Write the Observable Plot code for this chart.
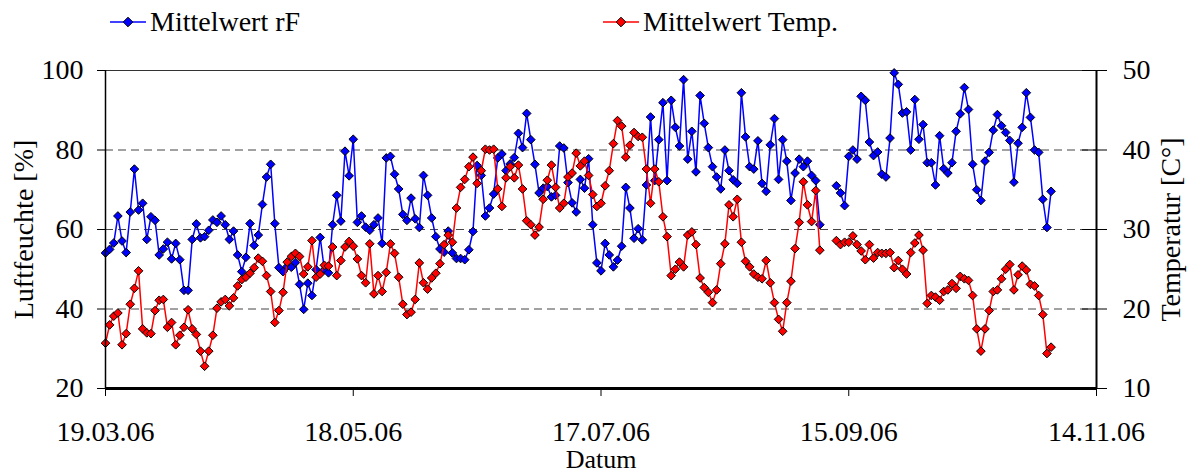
<!DOCTYPE html>
<html>
<head>
<meta charset="utf-8">
<script src="https://cdn.jsdelivr.net/npm/d3@7"></script>
<script src="https://cdn.jsdelivr.net/npm/@observablehq/plot@0.6"></script>
<style>
  body { margin: 0; background: #fff; font-family: "Liberation Serif", "Times New Roman", "DejaVu Serif", serif; }
  #legend { position: relative; width: 1193px; height: 44px; font-size: 28px; color: #000; }
  #legend .item { position: absolute; top: 0; height: 44px; display: flex; align-items: center; }
  #legend .item svg { margin-right: 2px; }
</style>
</head>
<body>
<div id="legend"></div>
<div id="chart"></div>
<script>
// Daily means from 19.03.06 onwards; null = no measurement
const startDate = "19.03.06";
const tickLabels = ["19.03.06", "18.05.06", "17.07.06", "15.09.06", "14.11.06"];
const humidityTicks = [20, 40, 60, 80, 100];

// Mittelwert rF [%]
const humidity = [
  54.1, 55.0, 56.6, 63.4, 57.1, 54.2, 64.4, 75.2, 64.9, 66.6, 57.5, 63.2, 62.3, 53.6, 55.1, 56.8, 52.6, 56.5, 52.4, 44.7,
  44.7, 57.5, 61.4, 57.9, 58.2, 59.8, 62.4, 61.8, 63.4, 61.2, 57.5, 59.6, 53.6, 49.4, 53.0, 61.5, 56.0, 58.6, 66.3, 73.2,
  76.4, 61.5, 50.4, 49.4, 50.7, 50.5, 51.7, 46.2, 39.9, 46.5, 43.4, 49.9, 58.0, 49.9, 49.1, 61.2, 68.6, 62.1, 79.7, 73.5,
  82.7, 61.8, 63.4, 60.6, 59.8, 61.2, 62.9, 56.5, 78.0, 78.4, 73.9, 70.2, 63.8, 62.3, 67.9, 62.7, 60.5, 73.6,
  68.6, 62.9, 58.2, 55.1, 54.3, 59.6, 54.1, 52.7, 52.7, 52.4, 54.9, 59.5, 76.1, 73.6, 63.4, 65.4, 68.9, 78.0, 79.0, 74.8,
  76.5, 78.1, 84.2, 80.6, 89.2, 82.6, 76.4, 69.2, 70.4, 70.8, 68.2, 68.6, 81.0, 80.5, 71.8, 66.7, 64.4, 72.6, 70.4,
  77.8, 61.2, 51.6, 49.6, 56.5, 53.6, 50.6, 52.3, 55.8, 70.6, 65.4, 57.8, 60.2, 57.4, 71.2, 88.3, 72.3, 82.6, 91.9, 72.3,
  92.5, 85.7, 81.0, 97.7, 77.7, 84.7, 74.5, 93.7, 86.7, 80.6, 75.8, 73.2, 70.2, 80.0, 74.8, 72.5, 71.6, 94.4, 83.3,
  75.8, 75.2, 82.3, 71.6, 69.6, 81.3, 87.9, 72.6, 82.6, 77.2, 67.3, 74.2, 77.7, 75.8, 77.2, 73.6, 72.3, 61.2,
  null, null, null,
  71.0, 69.2, 66.0, 78.4, 80.0, 77.7, 93.5, 92.5, 82.0, 78.6, 79.5, 73.9, 73.2, 83.0, 99.4, 96.5, 89.3, 89.6,
  80.0, 92.7, 82.7, 86.4, 76.8, 76.8, 71.2, 83.6, 75.3, 74.2, 76.8, 84.7, 89.1, 95.7, 90.2, 76.4, 70.0, 67.3, 77.2, 79.4,
  85.0, 88.9, 86.1, 84.4, 82.4, 71.9, 81.7, 85.7, 94.4, 88.2, 80.0, 79.4, 67.6, 60.5, 69.6
];

// Mittelwert Temp. [°C]
const temperature = [
  15.7, 18.0, 19.1, 19.5, 15.5, 16.9, 20.6, 22.6, 24.8, 17.5, 17.0, 16.9, 19.8, 21.1, 21.2, 17.7, 18.3, 15.5, 16.7, 17.7,
  19.9, 17.5, 16.8, 14.7, 12.8, 14.7, 16.7, 20.1, 20.9, 21.2, 20.4, 21.4, 22.9, 23.7, 24.0, 24.5, 25.2, 26.4, 26.0, 24.2,
  22.2, 18.3, 19.8, 22.1, 25.9, 26.6, 27.0, 26.6, 24.4, 25.3, 28.6, 24.0, 24.4, 25.5, 25.4, 27.8, 24.2, 26.1, 27.8, 28.5,
  27.9, 26.3, 24.2, 23.3, 28.2, 21.9, 24.2, 22.2, 24.6, 28.2, 27.0, 24.0, 20.6, 19.3, 19.6, 21.2, 25.8, 23.3,
  22.5, 23.9, 24.5, 25.7, 28.1, 29.3, 28.4, 32.7, 35.3, 36.3, 37.9, 39.1, 35.8, 37.4, 40.1, 40.0, 40.1, 35.1, 32.9, 36.5,
  37.9, 36.5, 38.1, 35.1, 31.1, 30.6, 29.3, 30.3, 33.8, 36.2, 38.1, 35.3, 32.7, 33.3, 36.6, 37.1, 39.6, 38.0, 38.6,
  36.8, 34.4, 32.9, 33.3, 35.5, 37.4, 40.8, 43.7, 43.0, 39.1, 40.6, 42.2, 41.7, 41.6, 37.6, 33.3, 37.6, 36.0, 31.6, 29.1,
  24.2, 25.0, 25.9, 25.3, 29.3, 29.7, 28.1, 23.9, 22.7, 22.1, 20.8, 22.4, 25.7, 28.2, 33.1, 31.6, 33.8, 28.4, 26.0,
  25.3, 24.4, 24.0, 23.8, 26.1, 23.3, 20.8, 18.7, 17.2, 20.8, 23.5, 27.6, 30.9, 36.0, 33.1, 31.0, 34.9, 27.4,
  null, null, null,
  28.6, 28.1, 28.4, 28.4, 29.2, 28.1, 27.3, 26.2, 28.1, 26.4, 27.1, 27.0, 27.0, 27.1, 25.2, 26.1, 25.0, 24.4,
  27.1, 28.3, 29.3, 27.4, 20.7, 21.7, 21.5, 21.1, 22.2, 22.4, 23.2, 22.6, 24.1, 23.8, 23.6, 21.7, 17.5, 14.7, 17.5, 19.8,
  22.2, 22.4, 23.8, 25.0, 25.6, 22.4, 24.3, 25.4, 24.9, 23.1, 22.9, 21.7, 19.3, 14.4, 15.2
];

const blue = "#0000ff";
const red = "#ff0000";
const serif = "'Liberation Serif', 'Times New Roman', 'DejaVu Serif', serif";

const parseDate = d3.utcParse("%d.%m.%y");
const formatDate = d3.utcFormat("%d.%m.%y");
const start = parseDate(startDate);
const tickDates = tickLabels.map(parseDate);
const end = tickDates[tickDates.length - 1];

// Temperature shares the humidity scale: 10..50 °C  <->  20..100 %
const tempToRF = (t) => (t == null ? NaN : 20 + (t - 10) * 2);
const rfToTemp = (v) => (v - 20) / 2 + 10;

const rows = humidity.map((rF, i) => ({
  date: d3.utcDay.offset(start, i),
  rF: rF == null ? NaN : rF,
  temp: temperature[i]
}));

// Legend
function swatch(color) {
  return `<svg width="38" height="20" viewBox="0 0 38 20">
    <line x1="0" y1="10" x2="36" y2="10" stroke="${color}" stroke-width="1.6"/>
    <path d="M18,5.2L22.8,10L18,14.8L13.2,10Z" fill="${color}" stroke="#000" stroke-width="1"/>
  </svg>`;
}
const legendItems = [
  {label: "Mittelwert rF", color: blue, left: 110},
  {label: "Mittelwert Temp.", color: red, left: 603}
];
document.getElementById("legend").innerHTML = legendItems
  .map((d) => `<div class="item" style="left:${d.left}px">${swatch(d.color)}<span>${d.label}</span></div>`)
  .join("");

const chart = Plot.plot({
  width: 1193,
  height: 431,
  marginTop: 26,
  marginRight: 97,
  marginBottom: 87,
  marginLeft: 105,
  style: {fontFamily: serif, fontSize: "28px", color: "#000", background: "#fff"},
  x: {type: "utc", domain: [start, end]},
  y: {domain: [20, 100]},
  marks: [
    Plot.gridY([40, 60, 80], {stroke: "#444", strokeOpacity: 1, strokeDasharray: "8,5"}),
    Plot.frame({stroke: "#333", strokeWidth: 1}),
    Plot.line(rows, {x: "date", y: "rF", stroke: blue, strokeWidth: 1.5}),
    Plot.dot(rows, {x: "date", y: "rF", symbol: "diamond2", r: 3.9, fill: blue, stroke: "#000", strokeWidth: 1}),
    Plot.line(rows, {x: "date", y: (d) => tempToRF(d.temp), stroke: red, strokeWidth: 1.5}),
    Plot.dot(rows, {x: "date", y: (d) => tempToRF(d.temp), symbol: "diamond2", r: 3.9, fill: red, stroke: "#000", strokeWidth: 1}),
    Plot.ruleY([humidityTicks[0]], {stroke: "#000", strokeWidth: 3}),
    Plot.ruleX([start], {stroke: "#000", strokeWidth: 1.5}),
    Plot.ruleX([end], {stroke: "#000", strokeWidth: 2}),
    Plot.axisX({ticks: tickDates, tickFormat: formatDate, tickSize: 8, tickPadding: 25, label: null}),
    Plot.axisY({anchor: "left", ticks: humidityTicks, tickSize: 8, tickPadding: 14, label: null}),
    Plot.axisY({anchor: "right", ticks: humidityTicks, tickSize: 10, tickPadding: 16, tickFormat: rfToTemp, label: null}),
    Plot.axisY({anchor: "right", ticks: humidityTicks, tickSize: 15, dx: -15, tickFormat: () => "", label: null}),
    Plot.text(["Luftfeuchte [%]"], {text: (d) => d, frameAnchor: "left", textAnchor: "middle", lineAnchor: "middle", dx: -81, rotate: -90}),
    Plot.text(["Temperatur [C°]"], {text: (d) => d, frameAnchor: "right", textAnchor: "middle", lineAnchor: "middle", dx: 75, rotate: -90}),
    Plot.text(["Datum"], {text: (d) => d, frameAnchor: "bottom", textAnchor: "middle", lineAnchor: "middle", dy: 71, fontSize: 26})
  ]
});
document.getElementById("chart").append(chart);
</script>
</body>
</html>
